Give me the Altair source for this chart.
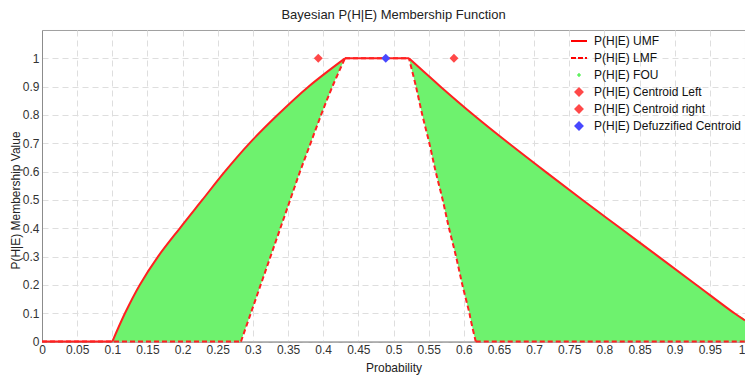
import altair as alt
import pandas as pd

# ---------------- data ----------------
title_text = "Bayesian P(H|E) Membership Function"
x_title = "Probability"
y_title = "P(H|E) Membership Value"

# membership levels on the left flank and the x where UMF / LMF reach them
y_levels = [0.0, 0.1, 0.2, 0.3, 0.4, 0.5, 0.6, 0.7, 0.8, 0.9, 1.0]
umf_left_x = [0.100, 0.118, 0.139, 0.165, 0.196, 0.228, 0.260, 0.295, 0.335, 0.379, 0.431]
lmf_left_x = [0.283, 0.297, 0.311, 0.325, 0.339, 0.353, 0.367, 0.382, 0.397, 0.413, 0.431]

# membership levels on the right flank
right_y = [0.0, 0.075, 0.1, 0.2, 0.3, 0.4, 0.5, 0.6, 0.7, 0.8, 0.9, 1.0]
lmf_right_x = [0.617, 0.610, 0.608, 0.598, 0.589, 0.579, 0.570, 0.560, 0.551, 0.541, 0.532, 0.522]
umf_right_x = [1.000, 1.000, 0.985, 0.931, 0.877, 0.823, 0.769, 0.716, 0.664, 0.614, 0.567, 0.522]

# centroid markers
cent_names = ["P(H|E) Centroid Left", "P(H|E) Centroid right", "P(H|E) Defuzzified Centroid"]
cent_x = [0.393, 0.586, 0.489]
cent_y = [1.0, 1.0, 1.0]

series_names = ["P(H|E) UMF", "P(H|E) LMF", "P(H|E) FOU",
                "P(H|E) Centroid Left", "P(H|E) Centroid right", "P(H|E) Defuzzified Centroid"]
series_colors = ["#ff0000", "#ff0000", "#33ee33", "#ff4848", "#ff4848", "#4848ff"]

x_ticks = [0, 0.05, 0.1, 0.15, 0.2, 0.25, 0.3, 0.35, 0.4, 0.45, 0.5,
           0.55, 0.6, 0.65, 0.7, 0.75, 0.8, 0.85, 0.9, 0.95, 1]
y_ticks = [0, 0.1, 0.2, 0.3, 0.4, 0.5, 0.6, 0.7, 0.8, 0.9, 1]

# ---------------- tables ----------------
left_fou = pd.DataFrame({"y": y_levels, "xa": umf_left_x, "xb": lmf_left_x})
right_fou = pd.DataFrame({"y": right_y, "xa": lmf_right_x, "xb": umf_right_x})


def segments(parts):
    rows = []
    for seg, xs, ys in parts:
        for i, (xv, yv) in enumerate(zip(xs, ys)):
            rows.append({"seg": seg, "i": i, "x": xv, "y": yv})
    return pd.DataFrame(rows)


umf_df = segments([
    ("a", [0.0, umf_left_x[0]], [0.0, y_levels[0]]),
    ("b", umf_left_x, y_levels),
    ("c", [umf_left_x[-1], umf_right_x[-1]], [y_levels[-1], right_y[-1]]),
    ("d", umf_right_x[1:], right_y[1:]),
])
lmf_df = segments([
    ("a", [0.0, lmf_left_x[0]], [0.0, y_levels[0]]),
    ("b", lmf_left_x, y_levels),
    ("c", [lmf_left_x[-1], lmf_right_x[-1]], [y_levels[-1], right_y[-1]]),
    ("d", lmf_right_x, right_y),
    ("e", [lmf_right_x[0], 1.0], [right_y[0], 0.0]),
])

cent_df = pd.DataFrame({"series": cent_names, "x": cent_x, "y": cent_y})

FONT = "Liberation Sans"
fou_color = "#6ef26e"
CURVE = "catmull-rom"

xscale = alt.Scale(domain=[0, 1], nice=False, zero=False)
yscale = alt.Scale(domain=[0, 1.1], nice=False, zero=False)

x_axis = alt.Axis(values=x_ticks, format=".2~f", title=x_title, grid=True,
                  ticks=False, labelPadding=3, labelFlush=False, labelOverlap=False,
                  labelAlign={"condition": {"test": "datum.value >= 1", "value": "right"},
                              "value": "center"},
                  titleY=20.5, titleBaseline="top")
y_axis = alt.Axis(values=y_ticks, format=".1~f", title=y_title, grid=True,
                  ticks=False, labelPadding=3, titleX=-20, titleY=170)

X = lambda f: alt.X(f, scale=xscale, axis=x_axis, title=x_title)
Y = lambda f: alt.Y(f, scale=yscale, axis=y_axis, title=y_title)

left_area = alt.Chart(left_fou).mark_area(
    orient="horizontal", color=fou_color, interpolate=CURVE).encode(
    y=Y("y:Q"), x=X("xa:Q"), x2="xb:Q",
)
right_area = alt.Chart(right_fou).mark_area(
    orient="horizontal", color=fou_color, interpolate=CURVE).encode(
    y=Y("y:Q"), x=X("xa:Q"), x2="xb:Q",
)
lmf_line = alt.Chart(lmf_df).mark_line(
    color="#ff2020", strokeWidth=2, strokeDash=[5, 3], interpolate=CURVE).encode(
    x=X("x:Q"), y=Y("y:Q"), detail="seg:N", order="i:Q",
)
umf_line = alt.Chart(umf_df).mark_line(
    color="#ff2020", strokeWidth=2, interpolate=CURVE).encode(
    x=X("x:Q"), y=Y("y:Q"), detail="seg:N", order="i:Q",
)

is_line = "(datum.value === 'P(H|E) UMF' || datum.value === 'P(H|E) LMF')"
diamond_path = "M0,-0.62L0.62,0L0,0.62L-0.62,0Z"
cross_path = "M-0.25,-0.07H-0.07V-0.25H0.07V-0.07H0.25V0.07H0.07V0.25H-0.07V0.07H-0.25Z"

legend = alt.Legend(
    title=None, orient="none", legendX=531, legendY=5, padding=0,
    symbolType=alt.ExprRef(
        f"{is_line} ? 'stroke' : (datum.value === 'P(H|E) FOU' ? '{cross_path}' : '{diamond_path}')"),
    symbolSize=256,
    symbolStrokeColor="#ff0000",
    symbolStrokeWidth=alt.ExprRef(f"{is_line} ? 2 : 0"),
    symbolDash=alt.ExprRef("datum.value === 'P(H|E) LMF' ? [5, 2] : [1, 0]"),
    symbolOpacity=1,
    labelFont=FONT, labelFontSize=12, labelColor="#111111",
    labelOffset=9, rowPadding=5, labelLimit=300,
)

points = alt.Chart(cent_df).mark_point(shape="diamond", filled=True, size=80, opacity=1).encode(
    x=X("x:Q"), y=Y("y:Q"),
    color=alt.Color("series:N", scale=alt.Scale(domain=series_names, range=series_colors),
                    legend=legend),
)

chart = alt.layer(left_area, right_area, lmf_line, umf_line, points).properties(
    width=703, height=311.6,
    title=alt.TitleParams(title_text, fontSize=13, font=FONT, fontWeight="normal",
                          color="#222222", offset=8, anchor="middle"),
    autosize=alt.AutoSizeParams(type="none"),
    padding={"left": 34, "top": 22, "right": 0, "bottom": 33},
).configure_view(
    stroke="#a0a0a0", strokeWidth=1
).configure_axis(
    labelFont=FONT, labelFontSize=12, labelColor="#333333",
    titleFont=FONT, titleFontSize=12, titleFontWeight="normal", titleColor="#222222",
    domainColor="#8c8c8c", gridColor="#dedede", gridDash=[6, 4], gridWidth=1,
)

chart.save("out.html", embed_options={"renderer": "svg", "actions": False})
